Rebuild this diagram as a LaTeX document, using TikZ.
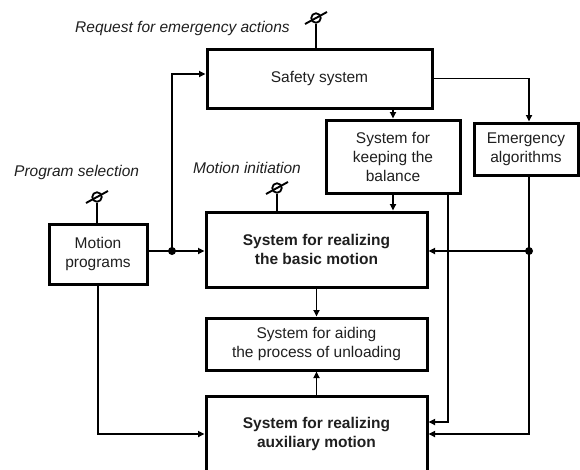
\documentclass[tikz,border=0pt]{standalone}
\usepackage{fontspec}
\setmainfont{Liberation Sans}
\usetikzlibrary{arrows.meta}
\begin{document}
\begin{tikzpicture}[x=1pt,y=-1pt,
  blockbox/.style={draw, line width=3pt, inner sep=0pt, align=center,
    font=\fontsize{15.5}{19}\selectfont, text=black!88},
  boldbox/.style={blockbox, font=\fontsize{15.5}{19}\selectfont\bfseries},
  conn/.style={line width=1.9pt},
  arr/.style={conn, -{Triangle[length=6.5pt,width=6pt]}},
  lbl/.style={font=\fontsize{15.5}{19}\selectfont\itshape, inner sep=0pt, text=black!88},
  joint/.style={circle, fill=black, inner sep=0pt, minimum size=8pt},
  term/.style={circle, draw, line width=1.8pt, inner sep=0pt, minimum size=9.5pt}]
\clip (0,0) rectangle (580,469);

% blocks
\node[blockbox, minimum width=225pt, minimum height=59pt] (safety) at (319.5,78.5) {Safety system};
\node[blockbox, minimum width=134pt, minimum height=73pt] (balance) at (393,156.5) {System for\\keeping the\\balance};
\node[blockbox, minimum width=104pt, minimum height=52pt] (emerg) at (526,149) {Emergency\\algorithms};
\node[blockbox, minimum width=98pt, minimum height=60pt] (progs) at (98,254) {Motion\\programs};
\node[boldbox, minimum width=221pt, minimum height=75pt] (basic) at (316.5,249.5) {System for realizing\\the basic motion};
\node[blockbox, minimum width=221pt, minimum height=52pt] (aiding) at (316.5,344) {System for aiding\\the process of unloading};
\node[boldbox, minimum width=221pt, minimum height=76pt] (aux) at (316.5,434) {System for realizing\\auxiliary motion};

% input terminals
\node[term] (t1) at (316,18) {};
\node[term] (t2) at (97,197) {};
\node[term] (t3) at (277,188) {};
\foreach \t/\b in {t1/safety, t2/progs, t3/basic}{
  \draw[conn] (\t.south) -- (\t.south |- \b.north);
  \draw[conn] ([shift={(-11,6)}]\t.center) -- ([shift={(11,-6)}]\t.center);
}

% terminal labels
\node[lbl, anchor=base west] (l1) at (75,32) {Request for emergency actions};
\node[lbl, anchor=base west] (l2) at (14,176) {Program selection};
\node[lbl, anchor=base west] (l3) at (193,173) {Motion initiation};

% routing points
\coordinate (jl) at (172,251);
\coordinate (jr) at (529,251);
\coordinate (bx) at (448,422);
\coordinate (ex) at (529,434);
\coordinate (px) at (98,434);

% connectors
\draw[arr] (progs.east |- jl) -- (basic.west |- jl);
\draw[arr] (jl) |- ([yshift=4.5pt]safety.west);
\draw[arr] (safety.east) -| (emerg.north -| jr);
\draw[arr] (balance.north |- safety.south) -- (balance.north);
\draw[arr] (balance.south) -- (basic.north -| balance.south);
\draw[arr] (balance.south -| bx) -- (bx) -- (aux.east |- bx);
\draw[conn] (emerg.south -| jr) -- (jr);
\draw[arr] (jr) -- (basic.east |- jr);
\draw[arr] (jr) -- (ex) -- (aux.east |- ex);
\draw[arr] (basic.south) -- (aiding.north);
\draw[arr] (aux.north) -- (aiding.south);
\draw[arr] (progs.south) -- (px) -- (aux.west |- px);

\node[joint] (d1) at (jl) {};
\node[joint] (d2) at (jr) {};
\end{tikzpicture}
\end{document}
